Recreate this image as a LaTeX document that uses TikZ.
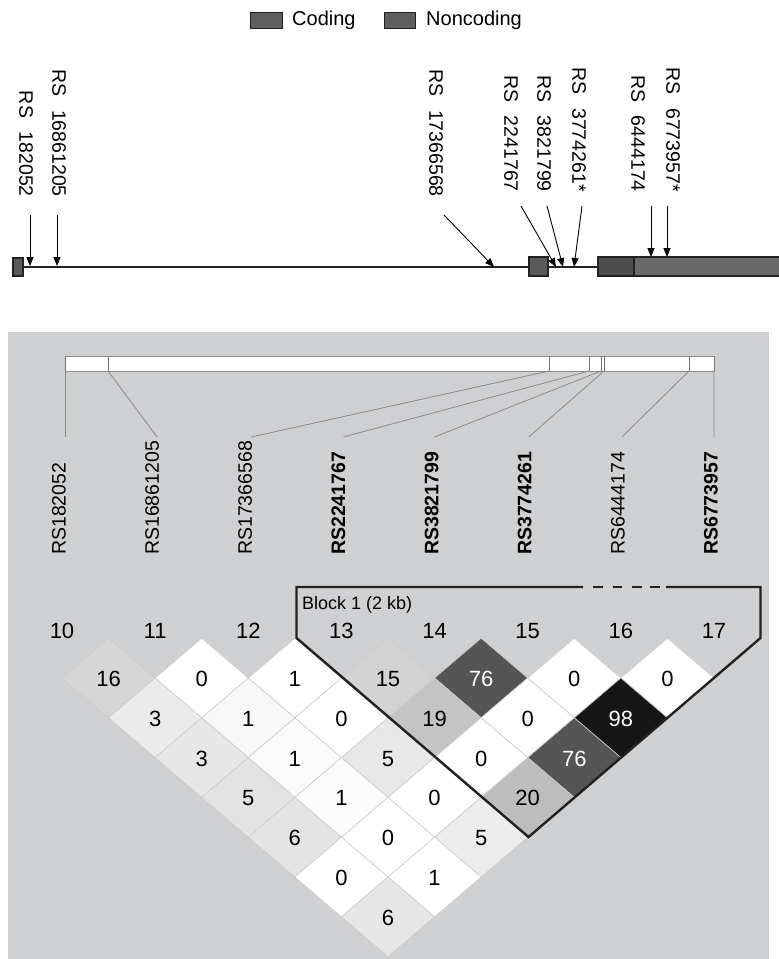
\documentclass[tikz,border=0pt]{standalone}
\usepackage{fontspec}
\setmainfont{Liberation Sans}
\usetikzlibrary{arrows.meta}
\definecolor{panel}{HTML}{CFD0D2}
\definecolor{codingc}{HTML}{4E4E4E}
\definecolor{noncodc}{HTML}{6A6A6A}
\definecolor{exonc}{HTML}{5A5A5A}
\definecolor{legc}{HTML}{5E5E5E}
\definecolor{outl}{HTML}{222222}
\definecolor{linkc}{HTML}{8A8A8A}
\tikzset{
  exonbox/.style={draw=outl,line width=1.4pt},
  geneline/.style={draw=outl,line width=1.4pt},
  snparrow/.style={draw=black,line width=0.9pt,-{Triangle[width=7pt,length=9pt]}},
  toplab/.style={rotate=-90,anchor=east,inner sep=0pt,font=\fontsize{19.5}{20}\selectfont},
  ldlab/.style={rotate=90,anchor=west,inner sep=0pt,font=\fontsize{19.5}{20}\selectfont},
  ldlabb/.style={ldlab,font=\fontsize{19.5}{20}\selectfont\bfseries},
  linkline/.style={draw=linkc,line width=0.8pt},
  colnum/.style={inner sep=0pt,font=\fontsize{22}{22}\selectfont},
  cellnum/.style={inner sep=0pt,font=\fontsize{22}{22}\selectfont},
  blockline/.style={draw=outl,line width=2.4pt,line join=miter},
  legtext/.style={anchor=west,inner sep=0pt,font=\fontsize{20}{20}\selectfont}
}
\begin{document}
\begin{tikzpicture}[x=1pt,y=-1pt]
\useasboundingbox (0,0) rectangle (779,959);
\fill[white] (0,0) rectangle (779,959);

% ---------- legend ----------
\node[draw=outl,fill=legc,line width=1pt,minimum width=32pt,minimum height=16pt,inner sep=0pt] (legcod) at (266,20) {};
\node[legtext] (legcodt) at (292,20) {Coding};
\node[draw=outl,fill=legc,line width=1pt,minimum width=31pt,minimum height=16pt,inner sep=0pt] (legnon) at (399.5,20) {};
\node[legtext] (legnont) at (426,20) {Noncoding};

% ---------- gene structure ----------
\draw[geneline] (22,267) -- (529,267);
\draw[geneline] (548,267) -- (598,267);
\node[exonbox,fill=exonc,minimum width=10pt,minimum height=18pt,inner sep=0pt] (ex1) at (18,267) {};
\node[exonbox,fill=exonc,minimum width=19pt,minimum height=19pt,inner sep=0pt] (ex2) at (538.5,266.5) {};
\fill[noncodc] (634,257) rectangle (782,276);
\fill[codingc] (598,257) rectangle (634,276);
\draw[outl,line width=1.4pt] (782,257) -- (598,257) -- (598,276) -- (782,276);
\draw[outl,line width=1.4pt] (634,257) -- (634,276);

% SNP labels (gene)
\node[toplab] (g1) at (26,197) {RS\hspace{0.7em}182052};
\node[toplab] (g2) at (59,197) {RS\hspace{0.7em}16861205};
\node[toplab] (g3) at (436,197) {RS\hspace{0.7em}17366568};
\node[toplab] (g4) at (511,192) {RS\hspace{0.7em}2241767};
\node[toplab] (g5) at (544,192) {RS\hspace{0.7em}3821799};
\node[toplab] (g6) at (579,192) {RS\hspace{0.7em}3774261*};
\node[toplab] (g7) at (638,192) {RS\hspace{0.7em}6444174};
\node[toplab] (g8) at (673,192) {RS\hspace{0.7em}6773957*};

% arrow coordinates
\coordinate (a1s) at (30,215);  \coordinate (a1e) at (30,266);
\coordinate (a2s) at (57,215);  \coordinate (a2e) at (57,266);
\coordinate (a3s) at (444,215); \coordinate (a3e) at (494,267);
\coordinate (a4s) at (521,206); \coordinate (a4e) at (556,267);
\coordinate (a5s) at (547,206); \coordinate (a5e) at (563,267);
\coordinate (a6s) at (582,206); \coordinate (a6e) at (574,267);
\coordinate (a7s) at (651,206); \coordinate (a7e) at (651,257);
\coordinate (a8s) at (667,206); \coordinate (a8e) at (667,257);
\foreach \k in {1,...,8}{\draw[snparrow] (a\k s) -- (a\k e);}

% ---------- LD panel ----------
\fill[panel] (7.5,332) rectangle (769,960);

% top bar
\node[draw=linkc,fill=white,line width=1pt,minimum width=649pt,minimum height=15pt,inner sep=0pt,anchor=north west] (bar) at (65,356) {};
\foreach \t in {65,108,549,589,601,604,689,714}{
  \coordinate (t\t) at (\t,371);
  \draw[draw=black!55,line width=0.9pt] (\t,356) -- (t\t);
}

% LD labels
\def\cx#1{62+93.14*#1}
\node[ldlab]  (l0) at ({\cx{0}-3},555) {RS182052};
\node[ldlab]  (l1) at ({\cx{1}-3},555) {RS16861205};
\node[ldlab]  (l2) at ({\cx{2}-3},555) {RS17366568};
\node[ldlabb] (l3) at ({\cx{3}-3},555) {RS2241767};
\node[ldlabb] (l4) at ({\cx{4}-3},555) {RS3821799};
\node[ldlabb] (l5) at ({\cx{5}-3},555) {RS3774261};
\node[ldlab]  (l6) at ({\cx{6}-3},555) {RS6444174};
\node[ldlabb] (l7) at ({\cx{7}-3},555) {RS6773957};

% link lines
\coordinate (e0) at ({\cx{0}+3},437);
\coordinate (e1) at ({\cx{1}+2},437);
\coordinate (e2) at ({\cx{2}+3},437);
\coordinate (e3) at ({\cx{3}+2},437);
\coordinate (e4) at ({\cx{4}},437);
\coordinate (e5) at ({\cx{5}+1},437);
\coordinate (e6) at ({\cx{6}+1},437);
\coordinate (e7) at ({\cx{7}},437);
\draw[linkline] (t65) -- (e0);
\draw[linkline] (t108) -- (e1);
\draw[linkline] (t549) -- (e2);
\draw[linkline] (t589) -- (e3);
\draw[linkline] (t601) -- (e4);
\draw[linkline] (t604) -- (e5);
\draw[linkline] (t689) -- (e6);
\draw[linkline] (t714) -- (e7);

% column numbers
\foreach \k/\n in {0/10,1/11,2/12,3/13,4/14,5/15,6/16,7/17}{
  \node[colnum] (n\n) at ({\cx{\k}},631) {\n};
}

% LD cells: i/j/value/fill/text colour
\foreach \i/\j/\v/\f/\tc in {
 0/1/16/D6D6D6/000000, 1/2/0/FFFFFF/000000, 2/3/1/FFFFFF/000000, 3/4/15/D2D2D2/000000,
 4/5/76/555555/FFFFFF, 5/6/0/FFFFFF/000000, 6/7/0/FFFFFF/000000,
 0/2/3/EBEBEB/000000, 1/3/1/F8F8F8/000000, 2/4/0/FFFFFF/000000, 3/5/19/C4C4C4/000000,
 4/6/0/FFFFFF/000000, 5/7/98/161616/FFFFFF,
 0/3/3/E7E7E7/000000, 1/4/1/FAFAFA/000000, 2/5/5/E8E8E8/000000, 3/6/0/FFFFFF/000000, 4/7/76/555555/FFFFFF,
 0/4/5/E3E3E3/000000, 1/5/1/FCFCFC/000000, 2/6/0/FFFFFF/000000, 3/7/20/BDBDBD/000000,
 0/5/6/E4E4E4/000000, 1/6/0/FFFFFF/000000, 2/7/5/ECECEC/000000,
 0/6/0/FFFFFF/000000, 1/7/1/FFFFFF/000000,
 0/7/6/E6E6E6/000000}{
  \definecolor{cellfill}{HTML}{\f}
  \definecolor{celltext}{HTML}{\tc}
  \pgfmathsetmacro{\xc}{62+93.14*(\i+\j)/2}
  \pgfmathsetmacro{\yc}{678+39.8*(\j-\i-1)}
  \filldraw[fill=cellfill,draw=black!20,line width=0.6pt]
     (\xc-46.57,\yc) -- (\xc,\yc-39.8) -- (\xc+46.57,\yc) -- (\xc,\yc+39.8) -- cycle;
  \node[cellnum,text=celltext] (c\i\j) at (\xc,\yc+1) {\v};
}

% block outline
\node[anchor=west,inner sep=0pt,font=\fontsize{18}{18}\selectfont] (blk) at (302,605) {Block 1 (2 kb)};
\coordinate (b1) at (296.5,587);
\coordinate (b2) at (296.5,638);
\coordinate (b3) at (528.5,837);
\coordinate (b4) at (760.5,638);
\coordinate (b5) at (760.5,587);
\coordinate (d1) at (583,587);
\coordinate (d2) at (666,587);
\draw[blockline] (d1) -- (b1) -- (b2) -- (b3) -- (b4) -- (b5) -- (d2);
\foreach \s in {593,612.5,632,650}{\draw[blockline,line cap=butt] (\s,587) -- (\s+9.5,587);}
\end{tikzpicture}
\end{document}
